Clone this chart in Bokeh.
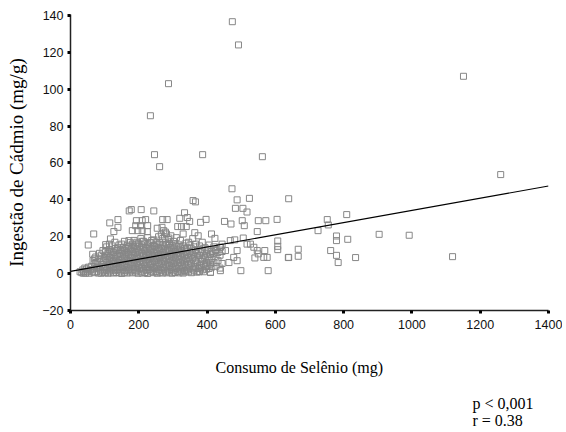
from bokeh.plotting import figure
from bokeh.models import Range1d, FixedTicker, Title
from bokeh.embed import file_html
from bokeh.resources import INLINE

# ---- data ----
x_ticks = [0, 200, 400, 600, 800, 1000, 1200, 1400]
y_ticks = [-20, 0, 20, 40, 60, 80, 100, 120, 140]

# dense low cluster (Selênio, Cádmio)
cluster_pts = [
    (28, 1.0), (33, 0.5), (36, 2.0), (40, 1.2), (44, 0.3), (47, 2.5), (50, 1.0), (53, 3.5), (55, 0.2), (58, 2.0), (42, 3.0), (38, 0.2),
    (62, 4.0), (64, 1.0), (66, 7.0), (68, 2.5), (70, 0.5), (72, 5.5), (74, 9.0), (76, 3.0), (78, 1.2), (80, 6.5), (82, 0.3), (84, 4.0),
    (86, 8.0), (88, 2.0), (90, 10.0), (92, 5.0), (94, 0.8), (96, 7.0), (98, 3.5), (100, 1.5), (65, 10.5), (75, 6.0), (85, 11.0),
    (95, 12.5), (70, 8.0), (80, 3.0), (90, 0.2), (99, 9.0),
    (102, 0.5), (102, 4.0), (102, 8.0), (102, 12.0),
    (106, 2.0), (106, 6.0), (106, 10.0), (106, 14.5),
    (110, 0.2), (110, 3.0), (110, 7.5), (110, 11.0),
    (114, 1.5), (114, 5.0), (114, 9.0), (114, 13.0), (114, 16.0),
    (118, 0.8), (118, 4.5), (118, 8.5), (118, 12.0),
    (122, 2.5), (122, 6.5), (122, 10.5), (122, 15.0),
    (126, 0.3), (126, 3.5), (126, 7.0), (126, 11.5),
    (130, 1.8), (130, 5.5), (130, 9.5), (130, 13.5), (130, 17.0),
    (134, 0.6), (134, 4.0), (134, 8.0), (134, 12.5),
    (138, 2.2), (138, 6.0), (138, 10.0), (138, 14.0),
    (142, 0.4), (142, 3.2), (142, 7.2), (142, 11.0), (142, 15.5),
    (146, 1.4), (146, 5.2), (146, 9.2), (146, 13.0),
    (150, 0.1), (150, 3.8), (150, 7.8), (150, 11.8), (150, 16.0),
    (154, 2.0), (154, 6.2), (154, 10.2), (154, 14.2),
    (158, 0.7), (158, 4.4), (158, 8.4), (158, 12.4), (158, 17.5),
    (162, 1.6), (162, 5.6), (162, 9.6), (162, 13.6),
    (166, 0.3), (166, 3.4), (166, 7.4), (166, 11.4), (166, 15.4),
    (170, 2.4), (170, 6.4), (170, 10.4), (170, 14.4),
    (174, 0.9), (174, 4.8), (174, 8.8), (174, 12.8), (174, 16.8),
    (178, 1.9), (178, 5.9), (178, 9.9), (178, 13.9),
    (182, 0.4), (182, 4.0), (182, 8.0), (182, 12.0), (182, 16.0),
    (186, 2.0), (186, 6.0), (186, 10.0), (186, 14.0), (186, 18.0),
    (190, 0.8), (190, 3.5), (190, 7.5), (190, 11.5), (190, 15.5),
    (194, 1.5), (194, 5.5), (194, 9.5), (194, 13.5), (194, 17.0),
    (198, 0.2), (198, 4.2), (198, 8.2), (198, 12.2), (198, 16.2),
    (202, 2.6), (202, 6.6), (202, 10.6), (202, 14.6),
    (206, 1.0), (206, 5.0), (206, 9.0), (206, 13.0), (206, 19.0),
    (210, 0.3), (210, 3.0), (210, 7.0), (210, 11.0), (210, 15.0),
    (214, 2.0), (214, 6.0), (214, 10.0), (214, 14.0), (214, 17.5),
    (218, 0.6), (218, 4.6), (218, 8.6), (218, 12.6), (218, 16.6),
    (222, 1.8), (222, 5.8), (222, 9.8), (222, 13.8),
    (226, 0.1), (226, 3.6), (226, 7.6), (226, 11.6), (226, 15.6), (226, 19.5),
    (230, 2.3), (230, 6.3), (230, 10.3), (230, 14.3),
    (234, 0.9), (234, 4.9), (234, 8.9), (234, 12.9), (234, 16.9),
    (238, 1.4), (238, 5.4), (238, 9.4), (238, 13.4), (238, 18.0),
    (242, 0.5), (242, 3.3), (242, 7.3), (242, 11.3), (242, 15.3),
    (246, 2.7), (246, 6.7), (246, 10.7), (246, 14.7),
    (250, 1.1), (250, 5.1), (250, 9.1), (250, 13.1), (250, 17.1),
    (254, 0.2), (254, 3.9), (254, 7.9), (254, 11.9), (254, 15.9),
    (258, 2.1), (258, 6.1), (258, 10.1), (258, 14.1), (258, 20.0),
    (262, 0.7), (262, 4.7), (262, 8.7), (262, 12.7), (262, 16.7),
    (266, 1.6), (266, 5.6), (266, 9.6), (266, 13.6), (266, 21.0),
    (270, 0.3), (270, 3.4), (270, 7.4), (270, 11.4), (270, 15.4), (270, 19.0),
    (274, 2.5), (274, 6.5), (274, 10.5), (274, 14.5),
    (278, 1.0), (278, 5.0), (278, 9.0), (278, 13.0), (278, 17.0), (278, 22.5),
    (282, 0.4), (282, 3.8), (282, 7.8), (282, 11.8), (282, 15.8),
    (286, 1.9), (286, 5.9), (286, 9.9), (286, 13.9), (286, 18.5),
    (290, 0.8), (290, 4.4), (290, 8.4), (290, 12.4), (290, 16.4),
    (294, 2.2), (294, 6.2), (294, 10.2), (294, 14.2), (294, 20.5),
    (298, 0.2), (298, 3.2), (298, 7.2), (298, 11.2), (298, 15.2),
    (302, 1.5), (302, 5.5), (302, 9.5), (302, 13.5), (302, 17.5),
    (306, 0.6), (306, 4.0), (306, 8.0), (306, 12.0), (306, 16.0),
    (310, 2.8), (310, 6.8), (310, 10.8), (310, 14.8), (310, 19.5),
    (314, 1.2), (314, 5.2), (314, 9.2), (314, 13.2),
    (318, 0.4), (318, 3.6), (318, 7.6), (318, 11.6), (318, 15.6),
    (322, 2.0), (322, 6.0), (322, 10.0), (322, 14.0), (322, 18.0),
    (326, 1.0), (326, 4.5), (326, 8.5), (326, 12.5),
    (330, 0.3), (330, 3.0), (330, 7.0), (330, 11.0), (330, 15.0), (330, 21.5),
    (334, 1.7), (334, 5.7), (334, 9.7), (334, 13.7),
    (338, 0.9), (338, 4.2), (338, 8.2), (338, 12.2), (338, 16.5),
    (342, 2.0), (342, 6.5), (342, 10.5), (342, 14.0),
    (346, 1.0), (346, 4.8), (346, 9.0), (346, 17.0),
    (350, 3.0), (350, 7.5), (350, 12.0), (350, 15.5),
    (354, 0.5), (354, 5.5), (354, 10.0), (354, 13.5),
    (358, 2.5), (358, 8.0), (358, 11.5), (358, 19.0),
    (362, 1.5), (362, 4.0), (362, 9.5), (362, 14.5),
    (366, 3.5), (366, 7.0), (366, 12.5), (366, 16.0),
    (370, 0.8), (370, 5.8), (370, 10.8),
    (374, 2.8), (374, 8.5), (374, 13.0), (374, 20.5),
    (378, 1.2), (378, 4.5), (378, 9.8), (378, 15.0),
    (382, 3.2), (382, 6.8), (382, 11.8),
    (386, 2.0), (386, 7.8), (386, 12.8), (386, 17.0),
    (390, 1.0), (390, 5.0), (390, 10.0),
    (394, 3.8), (394, 8.8), (394, 14.0),
    (398, 2.4), (398, 6.2), (398, 11.2),
    (402, 4.5), (402, 9.2), (402, 13.2),
    (406, 2.8), (406, 7.2), (406, 15.5),
    (410, 0.7), (410, 5.2), (410, 10.5),
    (414, 3.6), (414, 8.0), (414, 12.0),
    (420, 6.0), (420, 11.0), (420, 14.5),
    (426, 4.0), (426, 9.0), (426, 13.0),
    (432, 7.0), (432, 11.5),
    (438, 3.0), (438, 10.0), (438, 14.3),
    (444, 5.5), (444, 12.0), (444, 16.0),
]

# scattered points above the cluster and in the 400-650 band
mid_pts = [
    (52, 15.5), (68, 21.5), (103, 15.7), (115, 27.5), (117, 18.8), (127, 22.8), (139, 29.3), (139, 25.1),
    (171, 17.9), (172, 34.0), (178, 34.7), (181, 23.3), (191, 26.0), (193, 28.7), (197, 23.3), (205, 26.0),
    (207, 34.7), (210, 28.7), (210, 23.3), (210, 17.5), (220, 29.3), (225, 22.8), (226, 26.0), (244, 34.0),
    (244, 18.3), (254, 24.6), (268, 25.1), (270, 29.3), (273, 23.3), (281, 21.5), (283, 29.3), (288, 19.3),
    (314, 25.5), (320, 30.0), (325, 25.5), (334, 33.0), (339, 25.5), (342, 30.4), (349, 28.3), (359, 39.6),
    (364, 22.2), (366, 38.9), (376, 1.0), (381, 27.8), (397, 29.4), (410, 0.7), (413, 21.5), (423, 19.1),
    (425, 12.5), (439, 14.3), (439, 1.6), (451, 28.3), (454, 12.5), (464, 6.0), (468, 17.9), (470, 26.9),
    (473, 46.0), (478, 8.8), (481, 18.3), (483, 35.4), (488, 40.0), (488, 12.5), (488, 7.0), (499, 1.6),
    (503, 28.7), (505, 35.4), (506, 19.3), (509, 26.0), (517, 33.4), (517, 16.0), (524, 40.8), (527, 16.0),
    (537, 14.3), (540, 8.5), (547, 22.8), (547, 12.5), (550, 28.7), (550, 10.7), (566, 8.8), (569, 12.5),
    (572, 28.7), (576, 8.8), (579, 1.6), (605, 29.4), (607, 17.7), (607, 14.8), (607, 13.0), (638, 8.7),
    (639, 40.6), (639, 8.8), (667, 13.2), (667, 9.4),
]

# far points and outliers
outlier_pts = [
    (474, 136.6), (492, 124.0), (287, 103.0), (234, 85.6), (246, 64.5), (261, 58.0), (387, 64.5),
    (562, 63.4), (1151, 107.0), (1260, 53.7), (752, 29.3), (755, 26.4), (809, 32.0), (725, 23.3),
    (779, 20.4), (779, 17.9), (812, 18.6), (904, 21.3), (992, 20.8), (762, 12.5), (779, 9.9),
    (784, 6.0), (835, 8.7), (1119, 9.2),
]

# fitted regression line end points
fit_x = [0, 1400]
fit_y = [1.2, 47.5]

x_title = "Consumo de Selênio (mg)"
y_title = "Ingestão de Cádmio (mg/g)"
stats_p = "p < 0,001"
stats_r = "r = 0.38"

all_pts = cluster_pts + mid_pts + outlier_pts
selenio = [pt[0] for pt in all_pts]
cadmio = [pt[1] for pt in all_pts]

# ---- figure ----
p = figure(width=562, height=430, output_backend="svg", toolbar_location=None,
           x_range=Range1d(0, 1400), y_range=Range1d(-20, 140.5),
           min_border_left=70, min_border_right=14, min_border_top=14, min_border_bottom=120)
p.outline_line_color = None
p.xgrid.grid_line_color = None
p.ygrid.grid_line_color = None
p.background_fill_color = "white"
p.border_fill_color = "white"

p.scatter(selenio, cadmio, marker="square", size=6, fill_color=None,
          line_color="#878787", line_width=1)
p.line(fit_x, fit_y, line_color="black", line_width=1.2)

for ax, ticks in ((p.xaxis, x_ticks), (p.yaxis, y_ticks)):
    ax.ticker = FixedTicker(ticks=ticks)
    ax.minor_tick_line_color = None
    ax.major_tick_in = 0
    ax.major_tick_out = 3
    ax.major_tick_line_width = 3
    ax.major_tick_line_color = "black"
    ax.axis_line_color = "#222222"
    ax.axis_line_width = 1.5
    ax.major_label_text_font = "Liberation Sans"
    ax.major_label_text_font_size = "12.5px"
    ax.major_label_text_color = "#111111"
    ax.axis_label_text_font = "Liberation Serif"
    ax.axis_label_text_font_style = "normal"
    ax.axis_label_text_color = "black"

p.xaxis.major_label_standoff = 6
p.yaxis.major_label_standoff = 4
p.yaxis.axis_label = y_title
p.yaxis.axis_label_text_font_size = "19px"
p.yaxis.axis_label_standoff = 12

serif = dict(text_font="Liberation Serif", text_font_style="normal", text_color="black")
t_x = Title(text=x_title, align="left", offset=145, standoff=54, vertical_align="top",
            text_font_size="16px", **serif)
t_stats = Title(text=stats_p + "\n" + stats_r, align="left", offset=402, standoff=-20,
                vertical_align="top", text_font_size="16px", text_line_height=1.0, **serif)
p.add_layout(t_x, "below")
p.add_layout(t_stats, "below")

open("out.html", "w").write(file_html(p, INLINE))
